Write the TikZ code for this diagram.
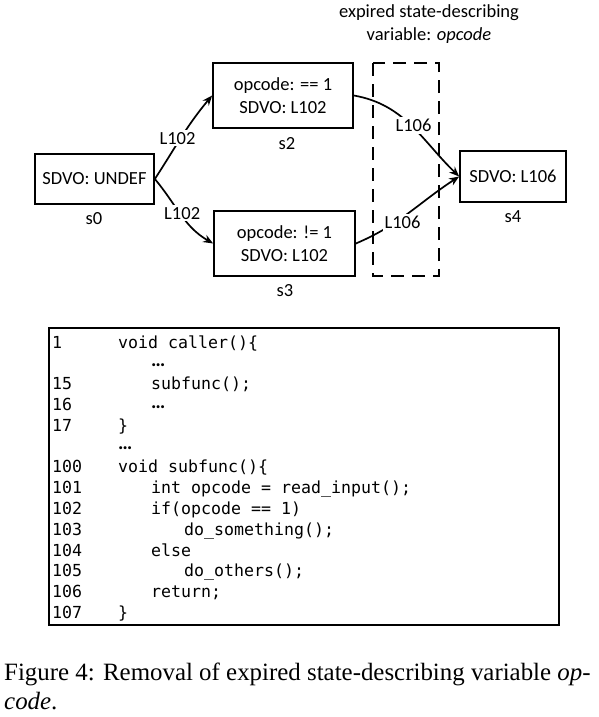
\documentclass[tikz,border=0pt]{standalone}
\usepackage{fontspec}
\setmainfont{Carlito}
\newfontfamily\capfont{Liberation Serif}
\newfontfamily\codefont{DejaVu Sans Mono}
\usetikzlibrary{arrows.meta}
\begin{document}
\begin{tikzpicture}[x=1pt,y=-1pt,
 txt/.style={font=\fontsize{18.5}{23}\selectfont},
 box/.style={draw,line width=1.7pt,inner sep=0pt,txt,align=center},
 lbl/.style={txt,inner sep=1pt},
 edgelbl/.style={fill=white,txt,inner sep=2pt},
 arr/.style={-{Stealth[length=10pt,width=8pt]},line width=1.7pt},
 codeline/.style={anchor=base west,inner sep=0pt,font=\codefont\fontsize{16.6}{20}\selectfont},
 dots/.style={anchor=base west,inner sep=0pt,font=\fontsize{20}{20}\selectfont\bfseries},
 captext/.style={anchor=base west,inner sep=0pt,font=\capfont\fontsize{24.9}{30}\selectfont}]
\useasboundingbox (0,0) rectangle (599,717);

% title
\node[txt,align=center] (title) at (429,24) {expired state-describing\\variable: \textit{opcode}};

% dashed region
\draw[line width=1.8pt,dash pattern=on 13pt off 8pt] (373,63) rectangle (439,276);

% states
\node[box,minimum width=119pt,minimum height=50pt] (s0) at (94.5,179) {SDVO: UNDEF};
\node[box,minimum width=140pt,minimum height=65pt] (s2) at (283,95.5) {opcode: == 1\\SDVO: L102};
\node[box,minimum width=141pt,minimum height=65pt] (s3) at (284.5,243.5) {opcode: != 1\\SDVO: L102};
\node[box,minimum width=106pt,minimum height=51pt] (s4) at (513,176.5) {SDVO: L106};

\node[lbl] (l0) at (94,219) {s0};
\node[lbl] (l2) at (287,144) {s2};
\node[lbl] (l3) at (285,291) {s3};
\node[lbl] (l4) at (513,217) {s4};

% transitions
\draw[arr] (s0.east) to[out=57,in=230] node[edgelbl,pos=0.45,xshift=-2pt,yshift=2pt] {L102} (s2.west);
\draw[arr] (s0.east) to[out=-50,in=150] node[edgelbl,pos=0.48,xshift=2pt] {L102} (s3.west);
\draw[arr] (s2.east) to[out=-10,in=136] node[edgelbl,pos=0.52,yshift=2pt] {L106} (s4.west);
\draw[arr] (s3.east) to[out=23,in=-147] node[edgelbl,pos=0.43,yshift=-5pt] {L106} (s4.west);

% code box
\draw[line width=1.3pt] (49,328) rectangle (559,625);
\node[codeline] (n1) at (52,348) {1};
\node[codeline] (c1) at (118,348) {void caller()\{};
\node[dots] (c2) at (151,366) {…};
\node[codeline] (n15) at (52,389.6) {15};
\node[codeline] (c15) at (151,389.6) {subfunc();};
\node[codeline] (n16) at (52,410.4) {16};
\node[dots] (c16) at (151,408) {…};
\node[codeline] (n17) at (52,431.2) {17};
\node[codeline] (c17) at (118,431.2) {\}};
\node[dots] (cd) at (118,449.5) {…};
\node[codeline] (n100) at (52,472.8) {100};
\node[codeline] (c100) at (118,472.8) {void subfunc()\{};
\node[codeline] (n101) at (52,493.6) {101};
\node[codeline] (c101) at (151,493.6) {int opcode = read\_input();};
\node[codeline] (n102) at (52,514.4) {102};
\node[codeline] (c102) at (151,514.4) {if(opcode == 1)};
\node[codeline] (n103) at (52,535.2) {103};
\node[codeline] (c103) at (184,535.2) {do\_something();};
\node[codeline] (n104) at (52,556) {104};
\node[codeline] (c104) at (151,556) {else};
\node[codeline] (n105) at (52,576.8) {105};
\node[codeline] (c105) at (184,576.8) {do\_others();};
\node[codeline] (n106) at (52,597.6) {106};
\node[codeline] (c106) at (151,597.6) {return;};
\node[codeline] (n107) at (52,618.4) {107};
\node[codeline] (c107) at (118,618.4) {\}};

% caption
\node[captext] (cap1) at (4,680) {Figure 4: Removal of expired state-describing variable \textit{op-}};
\node[captext] (cap2) at (4,709) {\textit{code}.};
\end{tikzpicture}
\end{document}
